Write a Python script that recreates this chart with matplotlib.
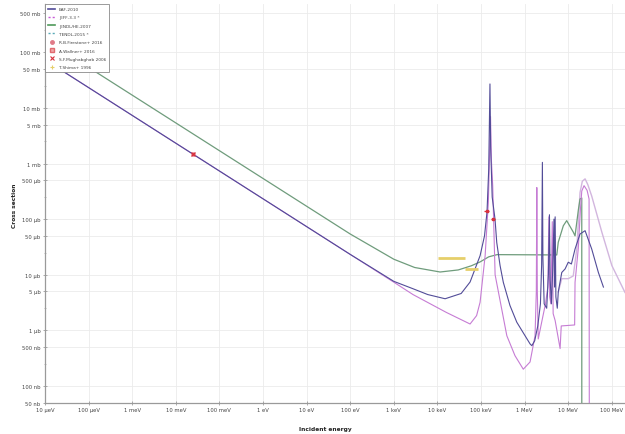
import matplotlib
matplotlib.use("Agg")
import matplotlib.pyplot as plt
from matplotlib.lines import Line2D
from matplotlib.ticker import FixedLocator, NullFormatter
import numpy as np

# ---------------- data (energy in eV, cross section in barn) ----------------
eaf_E = [1e-5, 1e2, 1e3, 2.75e3, 6e3, 1.5e4, 3.5e4, 5.6e4, 9.5e4, 1.2e5, 1.37e5, 1.5e5,
         1.6e5, 1.66e5, 1.8e5, 2.09e5, 2.29e5, 2.73e5, 3.24e5, 4.6e5, 6.6e5, 1.33e6, 1.46e6,
         1.7e6, 2.0e6, 2.3e6, 2.45e6, 2.55e6, 2.62e6, 2.8e6, 3.2e6, 3.5e6, 3.7e6, 3.85e6,
         4.1e6, 4.4e6, 4.7e6, 4.85e6, 5.0e6, 5.2e6, 5.6e6, 5.9e6, 7.1e6, 8.45e6, 1.0e7,
         1.18e7, 1.43e7, 1.86e7, 2.43e7, 3.45e7, 4.9e7, 6.4e7]
eaf_xs = [7.34e-2, 2.32e-5, 7.6e-6, 5.6e-6, 4.4e-6, 3.7e-6, 4.6e-6, 7.4e-6, 2.2e-5, 5e-5, 1.35e-4, 8e-4,
          2.7e-2, 2e-3, 2.5e-4, 1.0e-4, 3.8e-5, 1.46e-5, 7.3e-6, 2.8e-6, 1.4e-6, 5.7e-7, 5.3e-7,
          6.5e-7, 1.2e-6, 3e-6, 1.5e-5, 1.05e-3, 2e-5, 3e-6, 2.5e-6, 1e-5, 1.2e-4, 8e-6,
          3e-6, 1.2e-5, 1e-4, 6e-6, 1.1e-4, 4e-6, 2.5e-6, 4.9e-6, 1.1e-5, 1.27e-5, 1.68e-5,
          1.56e-5, 2.9e-5, 5.4e-5, 6.2e-5, 2.9e-5, 1.1e-5, 6e-6]

jeff_E = [1e-5, 1e3, 2.75e3, 1.6e4, 5.6e4, 7.9e4, 9.5e4, 1.24e5, 1.47e5, 1.65e5, 1.72e5, 1.85e5,
          2.1e5, 3.9e5, 6e5, 9.3e5, 1.33e6, 1.73e6, 1.85e6, 1.9e6, 1.95e6, 2.05e6, 2.5e6, 3.0e6,
          3.4e6, 3.6e6, 3.75e6, 4.0e6, 4.3e6, 4.5e6, 5.0e6, 6.5e6, 6.9e6, 1.4e7, 1.43e7, 1.7e7,
          1.9e7, 2.04e7, 2.3e7, 2.7e7, 3.0e7, 3.05e7]
jeff_xs = [7.34e-2, 7.34e-6, 4.4e-6, 2.1e-6, 1.3e-6, 1.84e-6, 3.2e-6, 2.2e-5, 2.0e-4, 7e-3, 1.2e-3, 4e-4,
           1e-5, 8e-7, 3.5e-7, 2e-7, 2.7e-7, 8e-7, 5e-6, 3.7e-4, 5e-6, 7e-7, 1.5e-6, 3e-6,
           6e-6, 1.1e-4, 4e-6, 3e-6, 9e-5, 2e-6, 1.5e-6, 4.7e-7, 1.2e-6, 1.25e-6, 7.3e-6, 3e-5,
           1.5e-4, 3.2e-4, 4e-4, 3.3e-4, 2.3e-4, 1e-9]

jendl_E = [1e-5, 1e2, 1e3, 3e3, 1.15e4, 3e4, 6e4, 9.5e4, 1.5e5, 2.33e5, 5.45e6, 5.9e6, 7.7e6,
           9.2e6, 1.31e7, 1.43e7, 1.71e7, 1.86e7, 2.04e7, 2.045e7]
jendl_xs = [1.695e-1, 5.4e-5, 1.9e-5, 1.35e-5, 1.12e-5, 1.22e-5, 1.45e-5, 1.7e-5, 2.1e-5, 2.3e-5,
            2.27e-5, 3.85e-5, 7.6e-5, 9.4e-5, 5.8e-5, 5e-5, 1.5e-4, 2.3e-4, 2.4e-4, 1e-9]

tendl_E = [5.9e6, 7.1e6, 1.0e7, 1.3e7, 1.57e7, 1.86e7, 2.1e7, 2.43e7, 2.8e7, 3.45e7, 5.9e7, 1e8, 2e8]
tendl_xs = [4.9e-6, 8.5e-6, 8.5e-6, 9.5e-6, 2.9e-5, 3.0e-4, 4.8e-4, 5.3e-4, 4.2e-4, 2.6e-4, 5.8e-5,
            1.46e-5, 4.8e-6]

firestone_E = [2.53e-2]
firestone_xs = [1.49e-3]

wallner_E = [1.37e5, 1.88e5]
wallner_Elow = [1.15e5, 1.65e5]
wallner_Ehigh = [1.55e5, 2.1e5]
wallner_xs = [1.4e-4, 1.0e-4]

mughabghab_E = [2.53e-2]
mughabghab_xs = [1.49e-3]

shima_E = [2.1e4, 6.1e4]
shima_Elow = [1.03e4, 4.3e4]
shima_Ehigh = [4.3e4, 8.7e4]
shima_xs = [2.0e-5, 1.27e-5]

x_ticks = [1e-5, 1e-4, 1e-3, 1e-2, 1e-1, 1e0, 1e1, 1e2, 1e3, 1e4, 1e5, 1e6, 1e7, 1e8]
x_labels = ["10 µeV", "100 µeV", "1 meV", "10 meV", "100 meV", "1 eV", "10 eV", "100 eV",
            "1 keV", "10 keV", "100 keV", "1 MeV", "10 MeV", "100 MeV"]
y_ticks = [5e-1, 1e-1, 5e-2, 1e-2, 5e-3, 1e-3, 5e-4, 1e-4, 5e-5, 1e-5, 5e-6, 1e-6, 5e-7, 1e-7, 5e-8]
y_labels = ["500 mb", "100 mb", "50 mb", "10 mb", "5 mb", "1 mb", "500 µb", "100 µb", "50 µb",
            "10 µb", "5 µb", "1 µb", "500 nb", "100 nb", "50 nb"]
y_minor = [2.5e-1, 2.5e-2, 2.5e-3, 2.5e-4, 2.5e-5, 2.5e-6, 2.5e-7]

# ---------------- styling ----------------
c_eaf = "#524c98"
c_jeff = "#c67cd4"
c_jendl = "#6f9c7c"
c_tendl = "#d2b6de"
c_red = "#d8303c"
c_yellow = "#e6cf6a"

plt.rcParams["font.family"] = ["DejaVu Sans"]

fig = plt.figure(figsize=(6.25, 4.35), dpi=100)
ax = fig.add_axes([0.072, 0.072, 0.928, 0.9165])
ax.set_xscale("log")
ax.set_yscale("log")
ax.set_xlim(1e-5, 2e8)
ax.set_ylim(5e-8, 0.74)

ax.xaxis.set_major_locator(FixedLocator(x_ticks))
ax.set_xticklabels(x_labels)
ax.xaxis.set_minor_locator(FixedLocator([]))
ax.yaxis.set_major_locator(FixedLocator(y_ticks))
ax.set_yticklabels(y_labels)
ax.yaxis.set_minor_locator(FixedLocator(y_minor))
ax.yaxis.set_minor_formatter(NullFormatter())

ax.grid(True, which="major", color="#ebebeb", linewidth=0.6)
ax.set_axisbelow(True)
for s in ["top", "right"]:
    ax.spines[s].set_visible(False)
for s in ["left", "bottom"]:
    ax.spines[s].set_color("#9a9a9a")
    ax.spines[s].set_linewidth(0.9)
ax.tick_params(axis="both", which="major", direction="inout", length=3.5, width=0.5,
               color="#8a8a8a", labelsize=3.8, labelcolor="#444444", pad=1.5)
ax.tick_params(axis="y", which="minor", direction="inout", length=2, width=0.4, color="#8a8a8a")

# ---------------- curves ----------------
ax.plot(tendl_E, tendl_xs, color=c_tendl, lw=1.0, zorder=2)
ax.plot(jendl_E, jendl_xs, color=c_jendl, lw=0.9, zorder=3)
ax.plot(jeff_E, jeff_xs, color=c_jeff, lw=0.8, zorder=4)
ax.plot(eaf_E, eaf_xs, color=c_eaf, lw=0.8, zorder=5)

# ---------------- experimental data ----------------
ax.plot(firestone_E, firestone_xs, "o", color="#e07a88", ms=2.2, zorder=6)
ax.errorbar(wallner_E, wallner_xs,
            xerr=[np.array(wallner_E) - np.array(wallner_Elow),
                  np.array(wallner_Ehigh) - np.array(wallner_E)],
            fmt="s", color=c_red, ms=2.0, elinewidth=0.9, capsize=0, zorder=7)
ax.plot(mughabghab_E, mughabghab_xs, "x", color=c_red, ms=2.5, mew=0.9, zorder=7)
ax.errorbar(shima_E, shima_xs,
            xerr=[np.array(shima_E) - np.array(shima_Elow),
                  np.array(shima_Ehigh) - np.array(shima_E)],
            fmt="none", ecolor=c_yellow, elinewidth=2.0, capsize=0, zorder=6)

# ---------------- legend ----------------
handles = [
    Line2D([], [], color=c_eaf, lw=1.2),
    Line2D([], [], color="#c85ad8", lw=1.0, ls=(0, (1.5, 1.5))),
    Line2D([], [], color="#4f9a5a", lw=1.2),
    Line2D([], [], color="#5aaab8", lw=1.0, ls=(0, (1.5, 1.5))),
    Line2D([], [], color="#e07a88", marker="o", ls="none", ms=2.5),
    Line2D([], [], color="#e06a70", marker="s", ls="none", ms=2.5, mfc="#f0a8a8"),
    Line2D([], [], color=c_red, marker="x", ls="none", ms=2.2, mew=0.8),
    Line2D([], [], color=c_yellow, marker="+", ls="none", ms=2.5, mew=0.8),
]
labels = ["EAF-2010", "JEFF-3.3 *", "JENDL/HE-2007", "TENDL-2015 *",
          "R.B.Firestone+ 2016", "A.Wallner+ 2016", "S.F.Mughabghab 2006", "T.Shima+ 1996"]
leg = ax.legend(handles, labels, loc="upper left", bbox_to_anchor=(0.0, 1.0),
                borderaxespad=0.0, fontsize=3.1, frameon=True, fancybox=False,
                handlelength=1.7, handletextpad=0.8, labelspacing=1.0,
                borderpad=0.7, edgecolor="#8a8a8a", framealpha=1.0)
leg.get_frame().set_linewidth(0.6)
leg.set_zorder(10)
for t in leg.get_texts():
    t.set_color("#444444")

# ---------------- axis titles ----------------
fig.text(0.024, 0.528, "Cross section", rotation=90, ha="center", va="center",
         fontsize=4.2, fontweight="bold", color="#222222")
fig.text(0.52, 0.012, "Incident energy", ha="center", va="center",
         fontsize=4.2, fontweight="bold", color="#222222")

fig.savefig("out.png", dpi=100)
